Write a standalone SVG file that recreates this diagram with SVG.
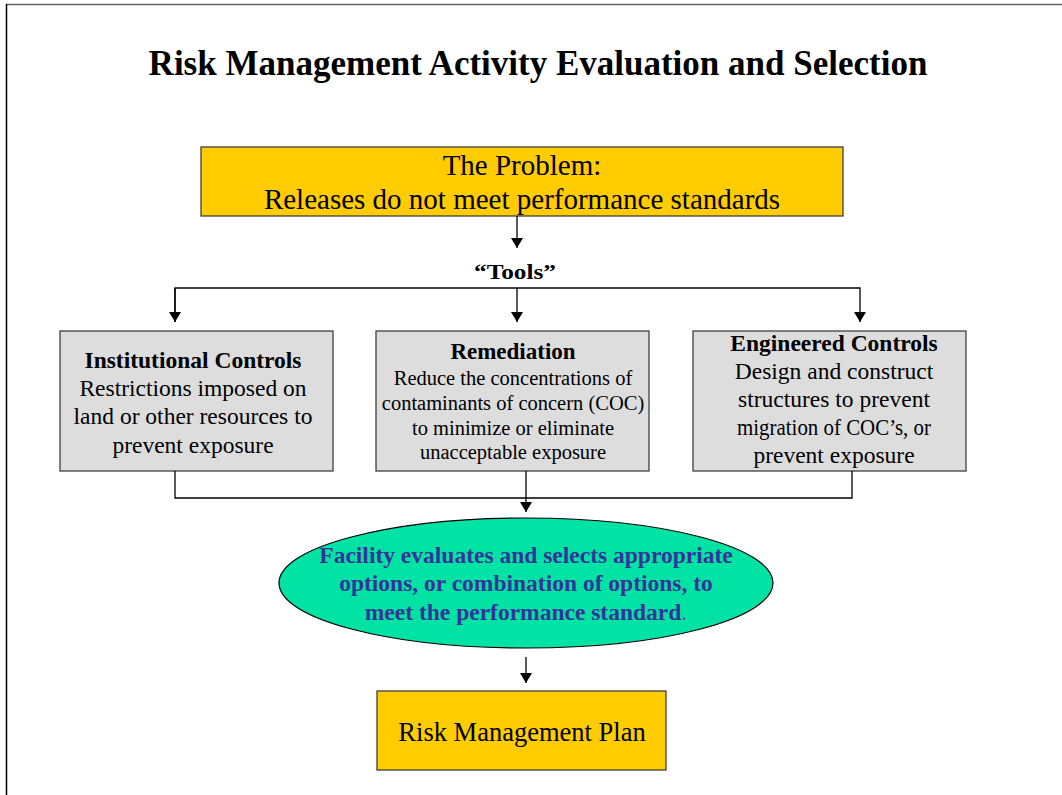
<svg xmlns="http://www.w3.org/2000/svg" width="1062" height="795" viewBox="0 0 1062 795">
<style>
.serif{font-family:"Liberation Serif","Times New Roman",serif;fill:#000;}
.b{font-weight:bold;}
.box{stroke:#404040;stroke-width:1.3;}
.yel{fill:#FFCC00;}
.gry{fill:#DDDDDD;}
.ln{fill:none;stroke:#000;stroke-width:1.3;}
.ell{font-family:"Liberation Serif","Times New Roman",serif;font-weight:bold;fill:#333399;font-size:23.5px;}
</style>
<defs>
<marker id="ah" viewBox="0 0 10 12" refX="10" refY="6" markerWidth="10" markerHeight="12" markerUnits="userSpaceOnUse" orient="auto">
<path d="M0,0 L10,6 L0,12 Z" fill="#000"/>
</marker>
</defs>
<rect width="1062" height="795" fill="#fff"/>
<line x1="6" y1="4.5" x2="1062" y2="4.5" stroke="#666" stroke-width="1.3"/>
<line x1="6.5" y1="4" x2="6.5" y2="795" stroke="#000" stroke-width="1.5"/>
<text id="title" class="serif b" x="538" y="75" font-size="35" text-anchor="middle">Risk Management Activity Evaluation and Selection</text>
<g id="problem">
<rect class="box yel" x="201" y="147" width="642" height="69"/>
<text class="serif" x="522" y="175" font-size="29" text-anchor="middle">The Problem:</text>
<text class="serif" x="522" y="209" font-size="29" text-anchor="middle">Releases do not meet performance standards</text>
</g>
<g id="tools">
<text class="serif b" x="515" y="279" font-size="22" text-anchor="middle" textLength="82" lengthAdjust="spacingAndGlyphs">“Tools”</text>
</g>
<g id="institutional">
<rect class="box gry" x="60" y="331" width="273" height="140"/>
<text class="serif b" x="193" y="368" font-size="23.5" text-anchor="middle">Institutional Controls</text>
<text class="serif" x="193" y="396" font-size="23.5" text-anchor="middle">Restrictions imposed on</text>
<text class="serif" x="193" y="424" font-size="23.5" text-anchor="middle">land or other resources to</text>
<text class="serif" x="193" y="453" font-size="23.5" text-anchor="middle">prevent exposure</text>
</g>
<g id="remediation">
<rect class="box gry" x="376" y="331" width="273" height="140"/>
<text class="serif b" x="513" y="359" font-size="23" text-anchor="middle">Remediation</text>
<text class="serif" x="513" y="385" font-size="20.5" text-anchor="middle">Reduce the concentrations of</text>
<text class="serif" x="513" y="410" font-size="20.5" text-anchor="middle">contaminants of concern (COC)</text>
<text class="serif" x="513" y="435" font-size="20.5" text-anchor="middle">to minimize or eliminate</text>
<text class="serif" x="513" y="459" font-size="20.5" text-anchor="middle">unacceptable exposure</text>
</g>
<g id="engineered">
<rect class="box gry" x="693" y="331" width="273" height="140"/>
<text class="serif b" x="834" y="351" font-size="23.5" text-anchor="middle">Engineered Controls</text>
<text class="serif" x="834" y="379" font-size="23.5" text-anchor="middle">Design and construct</text>
<text class="serif" x="834" y="407" font-size="23.5" text-anchor="middle">structures to prevent</text>
<text class="serif" x="834" y="435" font-size="23.5" text-anchor="middle" textLength="194" lengthAdjust="spacingAndGlyphs">migration of COC’s, or</text>
<text class="serif" x="834" y="463" font-size="23.5" text-anchor="middle">prevent exposure</text>
</g>
<g id="facility">
<ellipse cx="526" cy="583" rx="247" ry="65" fill="#00E3A4" stroke="#000" stroke-width="1.2"/>
<text class="ell" x="526" y="563" text-anchor="middle">Facility evaluates and selects appropriate</text>
<text class="ell" x="526" y="591" text-anchor="middle">options, or combination of options, to</text>
<text class="ell" x="526" y="620" text-anchor="middle">meet the performance standard<tspan font-weight="normal" fill="#5a5a9a">.</tspan></text>
</g>
<g id="plan">
<rect class="box yel" x="377" y="691" width="289" height="79"/>
<text class="serif" x="522" y="741" font-size="26.5" text-anchor="middle">Risk Management Plan</text>
</g>
<g id="connectors">
<line class="ln" x1="517" y1="216" x2="517" y2="248" marker-end="url(#ah)"/>
<polyline class="ln" points="175,322 175,288 860,288 860,322" marker-end="url(#ah)"/>
<line class="ln" x1="175" y1="288" x2="175" y2="322" marker-end="url(#ah)"/>
<line class="ln" x1="517" y1="288" x2="517" y2="322" marker-end="url(#ah)"/>
<polyline class="ln" points="175,471 175,498 852,498 852,471"/>
<line class="ln" x1="526" y1="471" x2="526" y2="512" marker-end="url(#ah)"/>
<line class="ln" x1="526" y1="657" x2="526" y2="683" marker-end="url(#ah)"/>
</g>
</svg>
